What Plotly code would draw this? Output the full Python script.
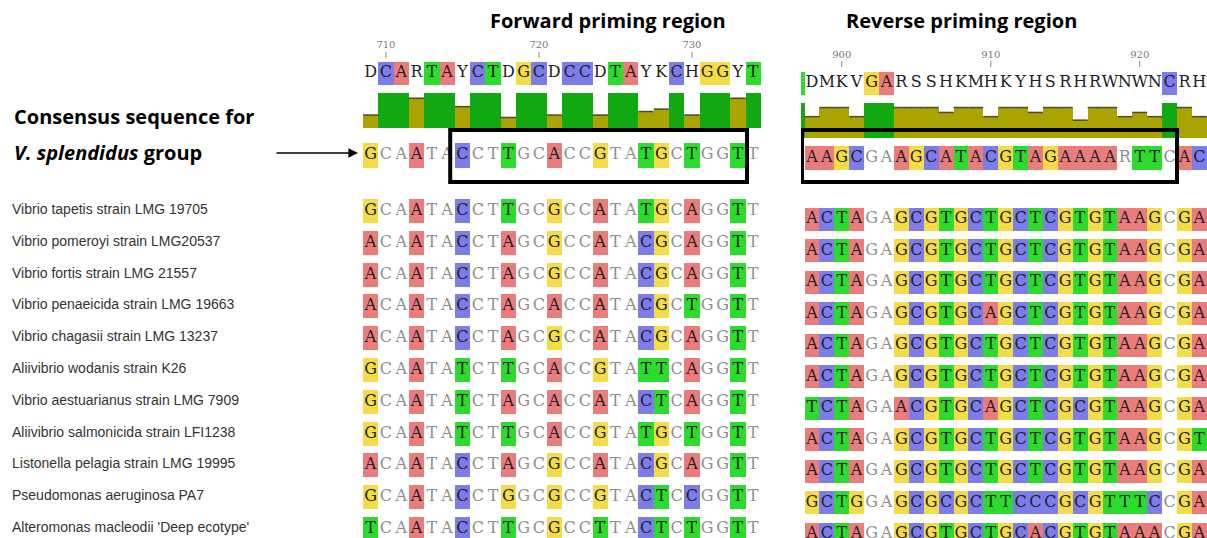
import plotly.graph_objects as go

W, H = 1207, 538

# ---------------- data ----------------
SPECIES = [
    "Vibrio tapetis strain LMG 19705",
    "Vibrio pomeroyi strain LMG20537",
    "Vibrio fortis strain LMG 21557",
    "Vibrio penaeicida strain LMG 19663",
    "Vibrio chagasii strain LMG 13237",
    "Aliivibrio wodanis strain K26",
    "Vibrio aestuarianus strain LMG 7909",
    "Aliivibrio salmonicida strain LFI1238",
    "Listonella pelagia strain LMG 19995",
    "Pseudomonas aeruginosa PA7",
    "Alteromonas macleodii 'Deep ecotype'",
]

# Forward priming region (alignment positions 709..734)
FWD_START = 709
FWD_IUPAC = "DCARTAYCTDGCDCCDTAYKCHGGYT"
FWD_CONSERVATION = [0.37, 1, 1, 0.85, 1, 1, 0.61, 1, 1, 0.30, 1, 1, 0.37,
                    1, 1, 0.37, 1, 1, 0.47, 0.54, 1, 0.37, 1, 1, 0.85, 1]
FWD_CONSENSUS = "GCAATACCTTGCACCGTATGCTGGTT"
FWD_SEQS = [
    "GCAATACCTTGCGCCATATGCAGGTT",
    "ACAATACCTAGCGCCATACGCAGGTT",
    "ACAATACCTAGCGCCATACGCAGGTT",
    "ACAATACCTAGCACCATACGCTGGTT",
    "ACAATACCTAGCGCCATACGCAGGTT",
    "GCAATATCTTGCACCGTATTCAGGTT",
    "GCAATATCTAGCACCATACTCAGGTT",
    "GCAATATCTTGCACCGTATGCTGGTT",
    "ACAATACCTAGCGCCATACGCAGGTT",
    "GCAATACCTGGCGCCGTACTCCGGTT",
    "TCAATACCTTGCGCCTTACTCTGGTT",
]

# Reverse priming region (alignment positions 897/898..924)
REV_IUPAC_START = 897
REV_IUPAC = "TDMKVGARSSHKMHKYHSRHRWNWNCRH"
REV_CONSERVATION = [1, 0.61, 0.87, 0.87, 0.61, 1, 1, 0.87, 0.87, 0.87, 0.73,
                    0.87, 0.87, 0.61, 0.87, 0.87, 0.73, 0.87, 0.87, 0.51, 0.87,
                    0.87, 0.61, 0.73, 0.61, 1, 0.87, 0.61]
REV_START = 898
REV_CONSENSUS = "AAGCGAAGCATACGTAGAAAARTTCAC"
REV_SEQS = [
    "ACTAGAGCGTGCTGCTCGTGTAAGCGA",
    "ACTAGAGCGTGCTGCTCGTGTAAGCGA",
    "ACTAGAGCGTGCTGCTCGTGTAAGCGA",
    "ACTAGAGCGTGCAGCTCGTGTAAGCGA",
    "ACTAGAGCGTGCTGCTCGTGTAAGCGA",
    "ACTAGAGCGTGCTGCTCGTGTAAGCGA",
    "TCTAGAACGTGCAGCTCGCGTAAGCGA",
    "ACTAGAGCGTGCTGCTCGTGTAAGCGT",
    "ACTAGAGCGTGCTGCTCGTGTAAGCGA",
    "GCTGGAGCGCGCTTCCCGCGTTTCCGA",
    "ACTAGAGCGTGCTGCACGTGTAAACGA",
]

# ---------------- style ----------------
NUC_COL = {"A": "#EA7C7C", "C": "#7C7CEA", "G": "#F4DC48", "T": "#2CDC2C"}
CONS_GREEN = "#12A812"
CONS_OLIVE = "#ABA400"
CONS_EDGE = "#4a4a30"
SEQ_FONT = "DejaVu Serif"
TXT_DARK = "#222222"
TXT_GREY = "#8e8e8e"

panels = [
    dict(xa="x", ya_bar="y2", start=FWD_START, iupac_start=FWD_START, iupac=FWD_IUPAC,
         cons=FWD_CONSERVATION, cons_start=FWD_START, consensus=FWD_CONSENSUS, seqs=FWD_SEQS,
         dom_px=(357, 762), col0_px=363, col_w=15.3,
         ruler_y=45, tick_y=(52, 58), top_y=73, top_h=23, bar_px=(128, 93),
         cons_y=155, cons_h=25, row0=211, row_dy=31.8, row_h=24,
         box=(714.2, 733.6, 130, 182)),
    dict(xa="x2", ya_bar="y3", start=REV_START, iupac_start=REV_IUPAC_START, iupac=REV_IUPAC,
         cons=REV_CONSERVATION, cons_start=REV_IUPAC_START, consensus=REV_CONSENSUS, seqs=REV_SEQS,
         dom_px=(801, 1207), col0_px=804.5, col_w=14.9,
         ruler_y=55, tick_y=(61, 67), top_y=83, top_h=23, bar_px=(138, 103),
         cons_y=158, cons_h=24, row0=219, row_dy=31.5, row_h=23,
         box=(897.33, 922.5, 130, 182)),
]

fig = go.Figure()
layout_axes = {}
shapes = []

for pi, p in enumerate(panels):
    start = p["start"]
    lo = start + (p["dom_px"][0] - p["col0_px"]) / p["col_w"] - 0.5
    hi = start + (p["dom_px"][1] - p["col0_px"]) / p["col_w"] - 0.5
    cons_map = {p["cons_start"] + k: v for k, v in enumerate(p["cons"])}

    cx, cb, chh, cc = [], [], [], []
    tx, ty, tt, tc = [], [], [], []

    def add_row(seq, seq_start, yc, h, rule, dark_all=False):
        for k, ch in enumerate(seq):
            pos = seq_start + k
            conserved = cons_map.get(pos, 0) >= 1
            hl = ch in NUC_COL and (conserved if rule == "conserved" else not conserved)
            if hl:
                cx.append(pos); cb.append(yc - h / 2); chh.append(h); cc.append(NUC_COL[ch])
            if pos >= lo + 0.5:
                tx.append(pos); ty.append(yc); tt.append(ch)
                tc.append(TXT_DARK if (hl or dark_all) else TXT_GREY)

    add_row(p["iupac"], p["iupac_start"], p["top_y"], p["top_h"], "conserved", dark_all=True)
    add_row(p["consensus"], start, p["cons_y"], p["cons_h"], "variable")
    for i, s in enumerate(p["seqs"]):
        add_row(s, start, p["row0"] + p["row_dy"] * i, p["row_h"], "variable")

    fig.add_trace(go.Bar(x=cx, y=chh, base=cb, width=1, marker=dict(color=cc, line=dict(width=0)),
                         xaxis=p["xa"], yaxis="y", hoverinfo="skip"))
    fig.add_trace(go.Scatter(x=tx, y=ty, text=tt, mode="text",
                             textfont=dict(family=SEQ_FONT, size=16, color=tc),
                             xaxis=p["xa"], yaxis="y", hoverinfo="skip"))

    # conservation histogram
    bx = [p["cons_start"] + k for k in range(len(p["cons"]))]
    fig.add_trace(go.Bar(x=bx, y=p["cons"], width=1,
                         marker=dict(color=[CONS_GREEN if v >= 1 else CONS_OLIVE for v in p["cons"]],
                                     line=dict(width=0)),
                         xaxis=p["xa"], yaxis=p["ya_bar"], hoverinfo="skip"))
    ex, ey = [], []
    for x, v in zip(bx, p["cons"]):
        if v < 1:
            ex += [x - 0.5, x + 0.5, None]; ey += [v, v, None]
    fig.add_trace(go.Scatter(x=ex, y=ey, mode="lines", line=dict(color=CONS_EDGE, width=1.5),
                             xaxis=p["xa"], yaxis=p["ya_bar"], hoverinfo="skip"))

    # ruler
    rt = [v for v in range(int(lo) + 1, int(hi) + 1) if v % 10 == 0]
    fig.add_trace(go.Scatter(x=rt, y=[p["ruler_y"]] * len(rt), text=[str(v) for v in rt], mode="text",
                             textfont=dict(family=SEQ_FONT, size=10, color="#777777"),
                             xaxis=p["xa"], yaxis="y", hoverinfo="skip"))
    kx, ky = [], []
    for v in rt:
        kx += [v, v, None]; ky += [p["tick_y"][0], p["tick_y"][1], None]
    fig.add_trace(go.Scatter(x=kx, y=ky, mode="lines", line=dict(color="#888888", width=1),
                             xaxis=p["xa"], yaxis="y", hoverinfo="skip"))

    xname = "xaxis" if pi == 0 else "xaxis2"
    layout_axes[xname] = dict(domain=[p["dom_px"][0] / W, p["dom_px"][1] / W], range=[lo, hi],
                              visible=False, anchor="y", fixedrange=True)
    yname = "yaxis2" if pi == 0 else "yaxis3"
    layout_axes[yname] = dict(domain=[1 - p["bar_px"][0] / H, 1 - p["bar_px"][1] / H], range=[0, 1],
                              visible=False, anchor=p["xa"], fixedrange=True)
    x0, x1, y0, y1 = p["box"]
    shapes.append(dict(type="rect", xref=p["xa"], yref="y", x0=x0, x1=x1, y0=y0, y1=y1,
                       line=dict(color="black", width=4), fillcolor="rgba(0,0,0,0)", layer="above"))

layout_axes["yaxis"] = dict(domain=[0, 1], range=[H, 0], visible=False, anchor="x", fixedrange=True)

annotations = []
for i, name in enumerate(SPECIES):
    annotations.append(dict(text=name, xref="paper", yref="y", x=10 / W, y=panels[0]["row0"] - 2 + panels[0]["row_dy"] * i,
                            xanchor="left", yanchor="middle", showarrow=False,
                            font=dict(family="Liberation Sans", size=14, color="#333333")))

TITLE_FONT = dict(family="Open Sans", size=20, color="black")
annotations += [
    dict(text="<b>Forward priming region</b>", xref="paper", yref="paper", x=608 / W, y=1 - 20 / H,
         xanchor="center", yanchor="middle", showarrow=False, font=TITLE_FONT),
    dict(text="<b>Reverse priming region</b>", xref="paper", yref="paper", x=961 / W, y=1 - 20 / H,
         xanchor="center", yanchor="middle", showarrow=False, font=TITLE_FONT),
    dict(text="<b>Consensus sequence for</b>", xref="paper", yref="paper", x=12 / W, y=1 - 117 / H,
         xanchor="left", yanchor="middle", showarrow=False, font=TITLE_FONT),
    dict(text="<b><i>V. splendidus</i> group</b>", xref="paper", yref="paper", x=12 / W, y=1 - 153 / H,
         xanchor="left", yanchor="middle", showarrow=False, font=TITLE_FONT),
    dict(text="", xref="paper", yref="paper", x=358 / W, y=1 - 153 / H, ax=-83, ay=0,
         showarrow=True, arrowhead=2, arrowsize=1.2, arrowwidth=1.6, arrowcolor="black"),
]

fig.update_layout(width=W, height=H, margin=dict(l=0, r=0, t=0, b=0),
                  paper_bgcolor="white", plot_bgcolor="rgba(0,0,0,0)",
                  showlegend=False, barmode="overlay", bargap=0,
                  shapes=shapes, annotations=annotations, **layout_axes)

fig.write_html("out.html", config={"displayModeBar": False},
               post_script="document.body.style.margin='0px';document.body.style.overflow='hidden';")
